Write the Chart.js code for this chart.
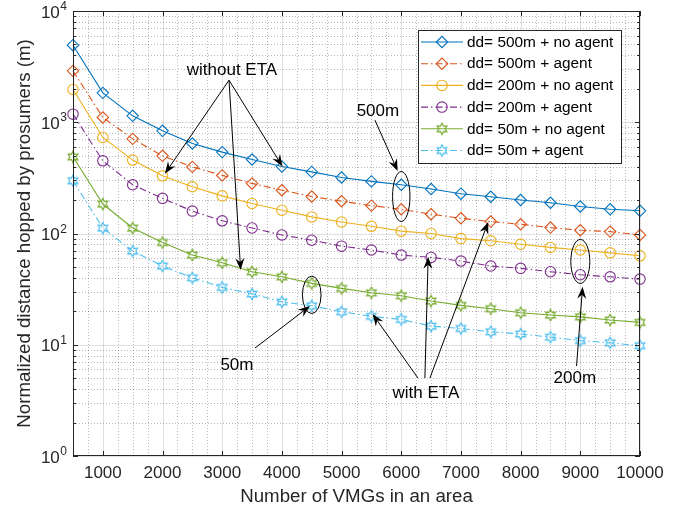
<!DOCTYPE html>
<html><head><meta charset="utf-8">
<script src="https://cdn.jsdelivr.net/npm/chart.js@4/dist/chart.umd.min.js"></script>
<style>html,body{margin:0;padding:0;background:#fff;}#wrap{width:689px;height:511px;position:relative;}</style>
</head><body><div id="wrap"><canvas id="c" width="689" height="511"></canvas></div>
<script>
// ---- data ----
const vmgCounts = [500,1000,1500,2000,2500,3000,3500,4000,4500,5000,5500,6000,6500,7000,7500,8000,8500,9000,9500,10000];
const xTickLabels = [1000,2000,3000,4000,5000,6000,7000,8000,9000,10000];
const yTickDecades = [1,10,100,1000,10000];
const seriesNames = ['dd= 500m + no agent','dd= 500m + agent','dd= 200m + no agent','dd= 200m + agent','dd= 50m + no agent','dd= 50m + agent'];
const dd500NoAgent = [4930,1837,1142,837,645,539,463,400,358,319,294,274,251,228,214,200,189,175,165,160];
const dd500Agent   = [2897,1104,709,499,397,333,282,245,215,195,178,165,149,137,128,121,113,107,104,97];
const dd200NoAgent = [1972,730,457,330,263,218,186,162,141,127,116,105,100,90,86,80,75,71,67,63];
const dd200Agent   = [1183,450,274,207,159,130,112,97,87,77,71,64,61,56.5,51,48.6,45.3,42.6,40.8,38.9];
const dd50NoAgent  = [489,184,112,83,64,54.6,45.3,40.8,35.6,32.1,29.3,27.6,24.7,22.6,21.1,19.4,18.5,17.8,16.7,15.9];
const dd50Agent    = [298,112,69.5,51,40,32.8,28.6,24.3,22.4,19.8,18,16.9,14.7,14.0,13.1,12.5,11.7,10.9,10.4,9.8];

// ---- annotations (data coordinates) ----
const annotationLabels = [
  {text:'without ETA', x:3163, y:2938},
  {text:'500m', x:5609, y:1259},
  {text:'50m', x:3247, y:6.57},
  {text:'200m', x:8909, y:5.0},
  {text:'with ETA', x:6413, y:3.68}
];
const annotationArrows = [
  {from:[3114,2388], to:[2040,345]},
  {from:[3114,2388], to:[4010,400]},
  {from:[3114,2388], to:[3309,46.9]},
  {from:[5559,1045], to:[5940,364]},
  {from:[3549,9.34], to:[4470,22.3]},
  {from:[8937,6.44], to:[9038,33.2]},
  {from:[6279,5.02], to:[5520,18.9]},
  {from:[6396,5.02], to:[6451,61.8]},
  {from:[6480,5.02], to:[7457,127]}
];
const annotationEllipses = [
  {x:6000, y:215, rx:8.7, ry:25},
  {x:4500, y:28.1, rx:9.3, ry:18.7},
  {x:9000, y:56.1, rx:9.5, ry:22}
];

const FONT = '"Liberation Sans", Arial, Helvetica, sans-serif';
const colors = ['#0072BD','#D95319','#EDB120','#7E2F8E','#77AC30','#4DBEEE'];
const dashDot = [7,3,1.5,3];

function hexagram(color, r){
  const s = Math.ceil(2*r+4);
  const c = document.createElement('canvas'); c.width = s; c.height = s;
  const g = c.getContext('2d');
  const cx = s/2, cy = s/2, ri = r*0.54;
  g.beginPath();
  for(let k=0;k<12;k++){
    const a = -Math.PI/2 + k*Math.PI/6;
    const rr = k%2===0 ? r : ri;
    g.lineTo(cx+rr*Math.cos(a), cy+rr*Math.sin(a));
  }
  g.closePath(); g.strokeStyle = color; g.lineWidth = 1.1; g.stroke();
  return c;
}

const seriesValues = [dd500NoAgent,dd500Agent,dd200NoAgent,dd200Agent,dd50NoAgent,dd50Agent];
const markerStyles = ['rectRot','rectRot','circle','circle',hexagram(colors[4],5.7),hexagram(colors[5],5.7)];
const dashes = [[],dashDot,[],dashDot,[],dashDot];

const datasets = seriesValues.map((vals,i)=>({
  label: seriesNames[i],
  data: vmgCounts.map((x,j)=>({x:x,y:vals[j]})),
  borderColor: colors[i],
  backgroundColor: 'rgba(0,0,0,0)',
  borderWidth: 1.1,
  borderDash: dashes[i],
  pointStyle: markerStyles[i],
  pointRadius: i<2 ? 5.7 : 5.2,
  pointBorderColor: colors[i],
  pointBackgroundColor: 'rgba(0,0,0,0)',
  pointBorderWidth: 1.1,
  tension: 0,
  clip: false
}));

function arrowHead(ctx,x1,y1,x2,y2){
  const ang = Math.atan2(y2-y1,x2-x1);
  const L = 12, W = 4.5, back = 8;
  const ca = Math.cos(ang), sa = Math.sin(ang);
  const bx = x2 - L*ca, by = y2 - L*sa;
  ctx.beginPath();
  ctx.moveTo(x1,y1); ctx.lineTo(x2 - back*ca, y2 - back*sa); ctx.stroke();
  ctx.beginPath();
  ctx.moveTo(x2,y2);
  ctx.lineTo(bx - W*sa, by + W*ca);
  ctx.lineTo(x2 - back*ca, y2 - back*sa);
  ctx.lineTo(bx + W*sa, by - W*ca);
  ctx.closePath(); ctx.fill();
}

const matlabPlugin = {
  id:'matlab',
  beforeDatasetsDraw(chart){
    const {ctx, chartArea:a, scales:{x,y}} = chart;
    ctx.save();
    ctx.lineWidth = 1;
    ctx.strokeStyle = 'rgba(0,0,0,0.28)';
    ctx.setLineDash([1,2]);
    for(let xv=750; xv<10000; xv+=250){
      if(xv%1000===0) continue;
      const px = Math.round(x.getPixelForValue(xv))+0.5;
      ctx.beginPath(); ctx.moveTo(px,a.top); ctx.lineTo(px,a.bottom); ctx.stroke();
    }
    for(let d=0; d<yTickDecades.length-1; d++){
      for(let k=2;k<=9;k++){
        const py = Math.round(y.getPixelForValue(yTickDecades[d]*k))+0.5;
        ctx.beginPath(); ctx.moveTo(a.left,py); ctx.lineTo(a.right,py); ctx.stroke();
      }
    }
    ctx.setLineDash([]);
    ctx.strokeStyle = 'rgba(0,0,0,0.12)';
    xTickLabels.forEach(xv=>{
      const px = Math.round(x.getPixelForValue(xv))+0.5;
      ctx.beginPath(); ctx.moveTo(px,a.top); ctx.lineTo(px,a.bottom); ctx.stroke();
    });
    yTickDecades.forEach(d=>{
      const py = Math.round(y.getPixelForValue(d))+0.5;
      ctx.beginPath(); ctx.moveTo(a.left,py); ctx.lineTo(a.right,py); ctx.stroke();
    });
    ctx.restore();
  },
  afterDatasetsDraw(chart){
    const {ctx, chartArea:a, scales:{x,y}} = chart;
    ctx.save();
    ctx.strokeStyle = '#262626'; ctx.lineWidth = 1; ctx.setLineDash([]);
    ctx.strokeRect(Math.round(a.left)+0.5, Math.round(a.top)+0.5, Math.round(a.right-a.left)-1, Math.round(a.bottom-a.top)-1);
    xTickLabels.forEach(xv=>{
      const px = Math.round(x.getPixelForValue(xv))+0.5;
      ctx.beginPath(); ctx.moveTo(px,a.bottom); ctx.lineTo(px,a.bottom-5);
      ctx.moveTo(px,a.top); ctx.lineTo(px,a.top+5); ctx.stroke();
    });
    for(let d=0; d<yTickDecades.length; d++){
      const py = Math.round(y.getPixelForValue(yTickDecades[d]))+0.5;
      ctx.beginPath(); ctx.moveTo(a.left,py); ctx.lineTo(a.left+5,py);
      ctx.moveTo(a.right,py); ctx.lineTo(a.right-5,py); ctx.stroke();
      if(d<yTickDecades.length-1){
        for(let k=2;k<=9;k++){
          const pm = Math.round(y.getPixelForValue(yTickDecades[d]*k))+0.5;
          ctx.beginPath(); ctx.moveTo(a.left,pm); ctx.lineTo(a.left+3,pm);
          ctx.moveTo(a.right,pm); ctx.lineTo(a.right-3,pm); ctx.stroke();
        }
      }
    }
    // y tick labels 10^n
    ctx.fillStyle = '#262626';
    yTickDecades.forEach(d=>{
      const py = y.getPixelForValue(d);
      const e = String(Math.round(Math.log10(d)));
      ctx.font = '12px ' + FONT;
      const ew = ctx.measureText(e).width;
      const ex = a.left - 6 - ew;
      ctx.textAlign = 'left'; ctx.textBaseline = 'alphabetic';
      ctx.fillText(e, ex, py - 1);
      ctx.font = '17px ' + FONT;
      ctx.textAlign = 'right'; ctx.textBaseline = 'middle';
      ctx.fillText('10', ex - 0.5, py + 2);
    });
    // y title
    ctx.save();
    ctx.translate(25, (a.top+a.bottom)/2);
    ctx.rotate(-Math.PI/2);
    ctx.font = '18.7px ' + FONT; ctx.textAlign='center'; ctx.textBaseline='middle';
    ctx.fillText('Normalized distance hopped by prosumers (m)', 0, 0);
    ctx.restore();
    // x title
    ctx.font = '18.7px ' + FONT; ctx.textAlign='center'; ctx.textBaseline='middle';
    ctx.fillText('Number of VMGs in an area', (a.left+a.right)/2, 497);

    // annotations
    ctx.strokeStyle = '#000'; ctx.fillStyle = '#000'; ctx.lineWidth = 1;
    annotationEllipses.forEach(el=>{
      ctx.beginPath();
      ctx.ellipse(x.getPixelForValue(el.x), y.getPixelForValue(el.y), el.rx, el.ry, 0, 0, Math.PI*2);
      ctx.stroke();
    });
    annotationArrows.forEach(ar=>{
      arrowHead(ctx, x.getPixelForValue(ar.from[0]), y.getPixelForValue(ar.from[1]),
                x.getPixelForValue(ar.to[0]), y.getPixelForValue(ar.to[1]));
    });
    ctx.font = '17px ' + FONT; ctx.textAlign='center'; ctx.textBaseline='middle';
    annotationLabels.forEach(l=>{
      ctx.fillText(l.text, x.getPixelForValue(l.x), y.getPixelForValue(l.y));
    });

    // legend
    const lx = a.right - 19 - 203, ly = a.top + 18.5, lw = 203, lh = 133;
    ctx.fillStyle = '#fff';
    ctx.fillRect(lx, ly, lw, lh);
    ctx.strokeStyle = '#262626';
    ctx.strokeRect(Math.round(lx)+0.5, Math.round(ly)+0.5, lw, lh);
    chart.data.datasets.forEach((ds,i)=>{
      const ry = ly + 12.5 + i*21.7;
      ctx.strokeStyle = ds.borderColor; ctx.lineWidth = ds.borderWidth;
      ctx.setLineDash(ds.borderDash);
      ctx.beginPath(); ctx.moveTo(lx+3, ry); ctx.lineTo(lx+45, ry); ctx.stroke();
      ctx.setLineDash([]);
      const mx = lx+24;
      if(typeof ds.pointStyle === 'string'){
        ctx.fillStyle = 'rgba(0,0,0,0)';
        ctx.strokeStyle = ds.pointBorderColor;
        Chart.helpers.drawPoint(ctx, {pointStyle: ds.pointStyle, radius: ds.pointRadius, borderWidth: ds.pointBorderWidth, rotation:0}, mx, ry);
      } else {
        const img = ds.pointStyle;
        ctx.drawImage(img, mx - img.width/2, ry - img.height/2);
      }
      ctx.fillStyle = '#000';
      ctx.font = '15.4px ' + FONT; ctx.textAlign='left'; ctx.textBaseline='middle';
      ctx.fillText(ds.label, lx+49, ry+0.5);
    });
    ctx.restore();
  }
};

new Chart(document.getElementById('c'), {
  type:'line',
  data:{datasets},
  options:{
    responsive:false,
    animation:false,
    layout:{padding:{left:0,right:49,top:11,bottom:0}, autoPadding:false},
    plugins:{legend:{display:false}, tooltip:{enabled:false}},
    scales:{
      x:{
        type:'linear', min:500, max:10000,
        afterBuildTicks(scale){ scale.ticks = xTickLabels.map(v=>({value:v})); },
        afterFit(scale){ scale.height = 55; },
        grid:{display:false, drawTicks:false}, border:{display:false},
        ticks:{color:'#262626', font:{family:FONT, size:17}, padding:7, maxRotation:0, autoSkip:false,
               callback:(v)=>String(v)}
      },
      y:{
        type:'logarithmic', min:1, max:10000,
        afterFit(scale){ scale.width = 73; },
        grid:{display:false, drawTicks:false}, border:{display:false},
        ticks:{display:false}
      }
    }
  },
  plugins:[matlabPlugin]
});
</script>
</body></html>
